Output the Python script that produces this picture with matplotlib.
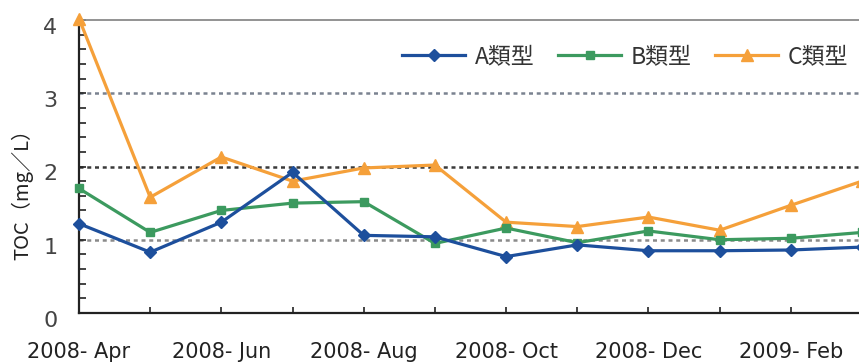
import matplotlib
matplotlib.use("Agg")
import matplotlib.pyplot as plt
from matplotlib.lines import Line2D
from matplotlib import transforms

plt.rcParams['font.family'] = ['DejaVu Sans', 'Noto Sans CJK JP']

months = ["2008- Apr", "2008- May", "2008- Jun", "2008- Jul", "2008- Aug", "2008- Sep",
          "2008- Oct", "2008- Nov", "2008- Dec", "2009- Jan", "2009- Feb", "2009- Mar"]
type_a = [1.22, 0.83, 1.24, 1.92, 1.06, 1.04, 0.77, 0.93, 0.85, 0.85, 0.86, 0.90]
type_b = [1.70, 1.10, 1.40, 1.50, 1.52, 0.95, 1.16, 0.96, 1.12, 1.00, 1.02, 1.10]
type_c = [4.02, 1.58, 2.13, 1.80, 1.98, 2.02, 1.24, 1.18, 1.31, 1.13, 1.47, 1.80]
series_names = ["A類型", "B類型", "C類型"]
y_ticks = [0, 1, 2, 3, 4]

blue = "#1d4f9c"
green = "#3c9a5f"
orange = "#f5a03a"

fig = plt.figure(figsize=(8.59, 3.62), dpi=100)
W, H = 859, 362
x0, x_last = 79, 862
y_bottom, y_top = 313, 20
ax = fig.add_axes([x0 / W, 1 - y_bottom / H, (x_last - x0) / W, (y_bottom - y_top) / H])

x = list(range(len(months)))
ax.plot(x, type_a, color=blue, lw=2.3, marker="D", ms=6, clip_on=False, zorder=5)
ax.plot(x, type_b, color=green, lw=2.3, marker="s", ms=5.5, clip_on=False, zorder=4)
ax.plot(x, type_c, color=orange, lw=2.3, marker="^", ms=8, clip_on=False, zorder=3)

ax.set_xlim(0, len(months) - 1)
ax.set_ylim(0, 4)

# horizontal reference lines
ax.axhline(3, color="#7a8290", lw=1.8, ls=(0, (1.6, 1.5)), zorder=1)
ax.axhline(2, color="#3a3a3a", lw=1.8, ls=(0, (1.6, 1.5)), zorder=1)
ax.axhline(1, color="#8a8a8a", lw=1.8, ls=(0, (1.6, 1.5)), zorder=1)

ax.spines["right"].set_visible(False)
ax.spines["top"].set_color("#8a8a8a")
ax.spines["top"].set_linewidth(1.3)
for side in ("left", "bottom"):
    ax.spines[side].set_color("#222222")
    ax.spines[side].set_linewidth(1.6)

ax.set_yticks(y_ticks)
ax.set_yticks([v / 5 for v in range(21)], minor=True)
ax.tick_params(axis="y", which="both", direction="in", length=5, width=1.2,
               color="#222222", labelsize=16, labelcolor="#444444", pad=15.5)
ax.set_xticks(x)
ax.set_xticklabels([m if i % 2 == 0 else "" for i, m in enumerate(months)])
ax.tick_params(axis="x", direction="in", length=4, width=1.2, color="#222222",
               labelsize=15, labelcolor="#222222", pad=21)

shift = transforms.ScaledTranslation(0, -6 / 100, fig.dpi_scale_trans)
for lbl in ax.get_yticklabels():
    lbl.set_transform(lbl.get_transform() + shift)

fig.text(22 / W, 1 - 189 / H, "TOC（mg／L）", rotation=90, ha="center", va="center",
         fontsize=14.5, color="#222222", family=["Noto Sans CJK JP", "DejaVu Sans"])

handles = [
    Line2D([], [], color=blue, lw=2.3, marker="D", ms=6),
    Line2D([], [], color=green, lw=2.3, marker="s", ms=5.5),
    Line2D([], [], color=orange, lw=2.3, marker="^", ms=8),
]
leg = ax.legend(handles, series_names, ncol=3, frameon=False, loc="center right",
                bbox_to_anchor=((848 - x0) / (x_last - x0), (y_bottom - 57) / (y_bottom - y_top)),
                prop={"family": ["Noto Sans CJK JP"], "size": 16.5},
                handlelength=2.75, handletextpad=0.4, columnspacing=1.05,
                borderaxespad=0, borderpad=0)
for t in leg.get_texts():
    t.set_color("#333333")

fig.savefig("out.png", dpi=100)
